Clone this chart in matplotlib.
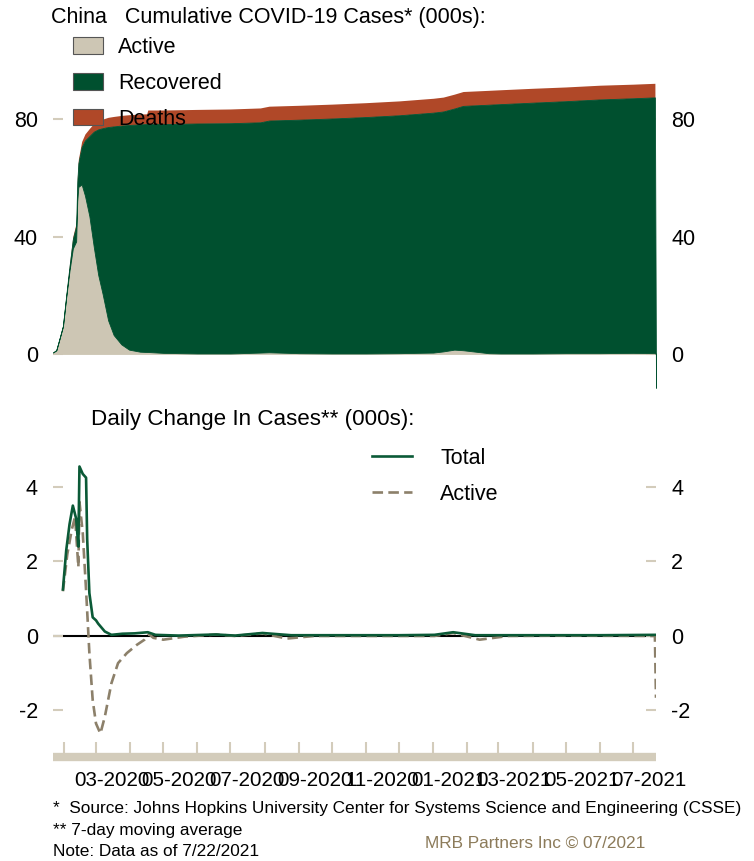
import numpy as np
import pandas as pd
import matplotlib
matplotlib.use("Agg")
import matplotlib.pyplot as plt
from matplotlib.transforms import ScaledTranslation
from matplotlib.patches import Patch
from matplotlib.lines import Line2D

plt.rcParams['font.family'] = ['Liberation Sans', 'DejaVu Sans']
plt.rcParams['axes.unicode_minus'] = False

# cumulative cases, 000s
cum_dates = pd.to_datetime([
    '2020-01-22', '2020-01-25', '2020-01-28', '2020-01-31', '2020-02-03', '2020-02-06',
    '2020-02-09', '2020-02-12', '2020-02-13', '2020-02-14', '2020-02-17', '2020-02-20',
    '2020-02-24', '2020-02-28', '2020-03-03', '2020-03-07', '2020-03-12', '2020-03-17',
    '2020-03-24', '2020-03-31', '2020-04-10', '2020-04-16', '2020-04-17', '2020-05-01',
    '2020-06-01', '2020-07-01', '2020-07-28', '2020-08-05', '2020-09-01', '2020-10-01',
    '2020-11-01', '2020-12-01', '2021-01-01', '2021-01-10', '2021-01-20', '2021-01-28',
    '2021-02-20', '2021-03-03', '2021-04-01', '2021-05-01', '2021-06-01', '2021-07-01',
    '2021-07-21', '2021-07-22'])
active = [0.5, 1.3, 5.3, 9.4, 19.4, 28.5,
          36.0, 38.4, 52.2, 57.0, 57.8, 54.0,
          47.0, 36.5, 27.0, 20.5, 11.5, 6.5,
          3.3, 1.5, 0.8, 0.7, 0.7, 0.4,
          0.2, 0.2, 0.5, 0.6, 0.3, 0.2,
          0.2, 0.3, 0.5, 0.9, 1.5, 1.3,
          0.3, 0.2, 0.2, 0.3, 0.3, 0.4,
          0.3, 0.0]
green_top = [0.53, 1.36, 5.4, 9.6, 20.0, 30.0,
             39.2, 43.6, 58.5, 65.0, 70.6, 72.8,
             74.3, 75.8, 76.6, 77.0, 77.4, 77.6,
             77.9, 78.1, 78.3, 78.4, 78.4, 78.4,
             78.6, 78.7, 79.0, 79.6, 79.9, 80.3,
             80.8, 81.4, 82.3, 82.7, 83.7, 84.6,
             85.0, 85.2, 85.7, 86.2, 86.8, 87.2,
             87.5, -11.5]
deaths = [0.02, 0.04, 0.13, 0.21, 0.43, 0.64,
          0.91, 1.11, 1.37, 1.38, 1.87, 2.24,
          2.6, 2.84, 3.0, 3.1, 3.3, 3.4,
          3.45, 3.5, 3.5, 3.5, 4.8, 4.8,
          4.8, 4.85, 4.9, 4.9, 4.9, 4.9,
          4.9, 4.9, 4.9, 4.9, 4.9, 4.9,
          4.9, 4.9, 4.9, 4.85, 4.85, 4.8,
          4.8, 0.0]
recovered = [g - a for g, a in zip(green_top, active)]

# daily change, 7-day average, 000s
total_dates = pd.to_datetime([
    '2020-01-31', '2020-02-03', '2020-02-06', '2020-02-09', '2020-02-12', '2020-02-14',
    '2020-02-15', '2020-02-18', '2020-02-21', '2020-02-22', '2020-02-24', '2020-02-27',
    '2020-03-01', '2020-03-03', '2020-03-09', '2020-03-15', '2020-03-25', '2020-04-05',
    '2020-04-17', '2020-04-24', '2020-05-15', '2020-06-18', '2020-07-05', '2020-07-30',
    '2020-08-25', '2020-10-01', '2020-12-01', '2021-01-02', '2021-01-19', '2021-02-08',
    '2021-04-01', '2021-06-01', '2021-07-22'])
total_chg = [1.25, 2.3, 3.0, 3.5, 3.15, 2.4,
             4.55, 4.35, 4.25, 2.6, 1.15, 0.5,
             0.42, 0.33, 0.12, 0.03, 0.06, 0.07,
             0.1, 0.03, 0.01, 0.04, 0.01, 0.08,
             0.02, 0.02, 0.02, 0.03, 0.1, 0.02,
             0.02, 0.02, 0.03]
active_dates = pd.to_datetime([
    '2020-01-31', '2020-02-04', '2020-02-08', '2020-02-11', '2020-02-14', '2020-02-15',
    '2020-02-18', '2020-02-21', '2020-02-24', '2020-02-27', '2020-03-01', '2020-03-05',
    '2020-03-09', '2020-03-15', '2020-03-21', '2020-03-29', '2020-04-07', '2020-04-14',
    '2020-04-18', '2020-04-22', '2020-05-01', '2020-05-20', '2020-06-18', '2020-07-05',
    '2020-07-30', '2020-08-21', '2020-09-15', '2020-11-01', '2021-01-02', '2021-01-19',
    '2021-02-12', '2021-03-10', '2021-05-01', '2021-07-21', '2021-07-22'])
active_chg = [1.2, 2.2, 2.85, 3.2, 1.85, 3.6,
              2.76, 1.23, -0.46, -1.72, -2.35, -2.62,
              -2.17, -1.27, -0.73, -0.46, -0.24, -0.1,
              0.05, -0.05, -0.1, -0.02, 0.04, 0.0,
              0.07, -0.07, 0.0, 0.0, 0.0, 0.08,
              -0.1, 0.0, 0.01, 0.0, -1.66]

tick_months = pd.date_range('2020-02-01', '2021-07-01', freq='MS')
tick_labels = [d.strftime('%m-%Y') if d.month % 2 == 1 else '' for d in tick_months]

x_start = pd.Timestamp('2020-01-22')
x_end = pd.Timestamp('2021-07-22')

c_active = '#cdc6b4'
c_rec = '#00502f'
c_death = '#b04828'
c_beige = '#d3ccbb'
c_total_line = '#0b5a37'
c_active_line = '#8c806a'

fs = 15.5
W, H = 754, 861
fig = plt.figure(figsize=(W / 100, H / 100), dpi=100)

# top panel
ax1 = fig.add_axes([53 / W, 1 - 389.25 / H, 603 / W, 308 / H])
polys = ax1.stackplot(cum_dates, active, recovered, deaths,
                      colors=[c_active, c_rec, c_death])
for p, c, w in zip(polys, [c_active, c_rec, c_death], [0.6, 0.6, 0]):
    p.set_edgecolor(c)
    p.set_linewidth(w)
polys[1].set_zorder(3)
ax1.set_xlim(x_start, x_end)
ax1.set_ylim(-12, 93)
for s in ax1.spines.values():
    s.set_visible(False)
ax1.set_xticks([])
ax1.set_yticks([0, 40, 80])
ax1.set_axisbelow(True)
ax1.tick_params(axis='y', direction='in', length=7.2, width=1.5, color=c_beige,
                labelsize=fs, pad=10.8, left=True, right=True,
                labelleft=True, labelright=True)

handles = [Patch(facecolor=c_active, edgecolor='#555555', linewidth=0.8),
           Patch(facecolor=c_rec, edgecolor='#555555', linewidth=0.8),
           Patch(facecolor=c_death, edgecolor='#555555', linewidth=0.8)]
ax1.legend(handles, ['Active', 'Recovered', 'Deaths'], loc='upper left',
           bbox_to_anchor=(73 / W, 1 - 37 / H), bbox_transform=fig.transFigure,
           frameon=False, borderpad=0, borderaxespad=0, handlelength=1.4,
           handleheight=0.79, handletextpad=0.7, labelspacing=0.69, fontsize=fs)

# bottom panel
ax2 = fig.add_axes([53 / W, 1 - 757 / H, 603 / W, 307.25 / H])
ax2.axhline(0, color='black', lw=1.5, zorder=1)
ax2.plot(total_dates, total_chg, color=c_total_line, lw=1.9, zorder=3)
ax2.plot(active_dates, active_chg, color=c_active_line, lw=1.9, ls=(0, (4, 2)), zorder=2)
ax2.set_xlim(x_start, x_end)
ax2.set_ylim(-3.25, 5)
ax2.set_yticks([-2, 0, 2, 4])
for k in ['left', 'right', 'top']:
    ax2.spines[k].set_visible(False)
ax2.spines['bottom'].set_color(c_beige)
ax2.spines['bottom'].set_linewidth(6)
ax2.spines['bottom'].set_capstyle('butt')
ax2.tick_params(axis='y', direction='in', length=7.2, width=1.5, color=c_beige,
                labelsize=fs, pad=10.8, left=True, right=True,
                labelleft=True, labelright=True)
ax2.set_xticks(tick_months)
ax2.set_xticklabels(tick_labels)
ax2.tick_params(axis='x', direction='in', length=10.8, width=1.5, color=c_beige,
                labelsize=14.8, pad=10)
shift = ScaledTranslation(16 / 100, 0, fig.dpi_scale_trans)
for lab in ax2.get_xticklabels():
    lab.set_transform(lab.get_transform() + shift)

leg_lines = [Line2D([], [], color=c_total_line, lw=1.9),
             Line2D([], [], color=c_active_line, lw=1.9, ls=(0, (4, 2)))]
ax2.legend(leg_lines, ['Total', 'Active'], loc='upper left',
           bbox_to_anchor=(372 / W, 1 - 448 / H), bbox_transform=fig.transFigure,
           frameon=False, borderpad=0, borderaxespad=0, handlelength=1.86,
           handletextpad=1.3, labelspacing=0.69, fontsize=fs)

# titles and notes
fig.text(51 / W, 1 - 18 / H, 'China   Cumulative COVID-19 Cases* (000s):',
         fontsize=fs, va='center')
fig.text(91 / W, 1 - 420 / H, 'Daily Change In Cases** (000s):',
         fontsize=16.1, va='center')
fn = 12.4
fig.text(53 / W, 1 - 808 / H,
         '*  Source: Johns Hopkins University Center for Systems Science and Engineering (CSSE)',
         fontsize=fn, va='center')
fig.text(53 / W, 1 - 831 / H, '** 7-day moving average', fontsize=fn, va='center')
fig.text(53 / W, 1 - 852 / H, 'Note: Data as of 7/22/2021', fontsize=fn, va='center')
fig.text(425 / W, 1 - 843 / H, 'MRB Partners Inc \u00a9 07/2021', fontsize=fn,
         va='center', color='#8c7b5a')

fig.savefig('out.png', dpi=100)
